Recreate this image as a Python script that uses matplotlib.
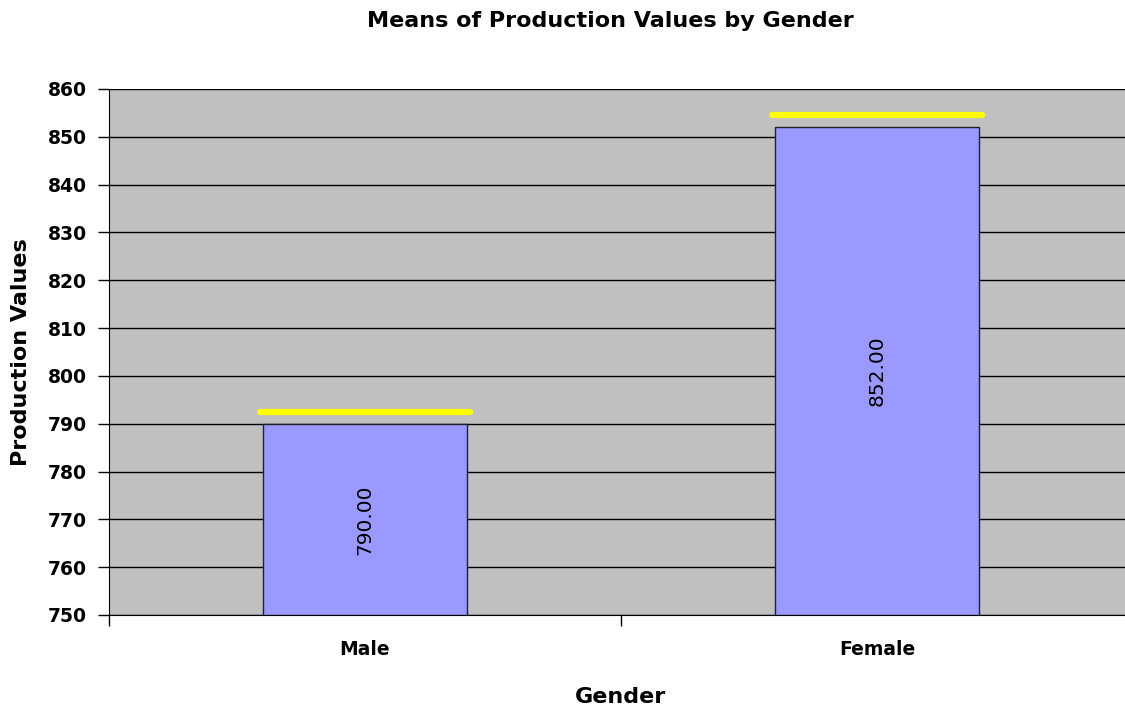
import numpy as np
import matplotlib
matplotlib.use('Agg')
import matplotlib.pyplot as plt

plt.rcParams['font.family'] = ['DejaVu Sans']

genders = ['Male', 'Female']
means = [790.00, 852.00]
upper = [792.5, 854.6]          # yellow lines above the bars
y_ticks = [750, 760, 770, 780, 790, 800, 810, 820, 830, 840, 850, 860]

fig = plt.figure(figsize=(11.25, 7.08), dpi=100)
ax = fig.add_axes([109/1125, 1 - 615/708, (1133 - 109)/1125, (615 - 89)/708])
ax.set_facecolor('#C0C0C0')

x = np.arange(len(genders))
ax.bar(x, np.array(means) - 750, bottom=750, width=0.40, color='#9999FF',
       edgecolor='#222222', linewidth=1, zorder=3)
ax.hlines(upper, x - 0.205, x + 0.205, colors='#FFFF00', linewidth=4.5,
          capstyle='round', zorder=4)

for xi, m in zip(x, means):             # valor dentro de la barra
    ax.text(xi, (750 + m) / 2, '%.2f' % m, rotation=90, ha='center', va='center',
            fontsize=14.5, zorder=5)

ax.set_xlim(-0.5, 1.5)
ax.set_ylim(750, 860)
ax.set_yticks(y_ticks)
ax.yaxis.grid(True, color='black', linewidth=1)
ax.set_axisbelow(True)
ax.tick_params(axis='y', direction='out', length=8, width=1, labelsize=13.5, pad=8)
for lab in ax.get_yticklabels():
    lab.set_fontweight('bold')

ax.set_xticks([-0.5, 0.5, 1.5])
ax.set_xticklabels([])
ax.set_xticks(x, minor=True)
ax.set_xticklabels(genders, minor=True, fontsize=13.5, fontweight='bold')
ax.tick_params(axis='x', which='major', direction='out', length=8, width=1)
ax.tick_params(axis='x', which='minor', length=0, pad=18)

for s in ['top', 'right']:
    ax.spines[s].set_visible(False)
ax.spines['left'].set_color('black')
ax.spines['bottom'].set_color('black')

ax.set_ylabel('Production Values', fontsize=16, fontweight='bold', labelpad=12)
ax.set_xlabel('Gender', fontsize=16, fontweight='bold', labelpad=20)
fig.text(610/1125, 1 - 21/708, 'Means of Production Values by Gender', ha='center',
         va='center', fontsize=16, fontweight='bold')

plt.savefig('out.png', dpi=100)
